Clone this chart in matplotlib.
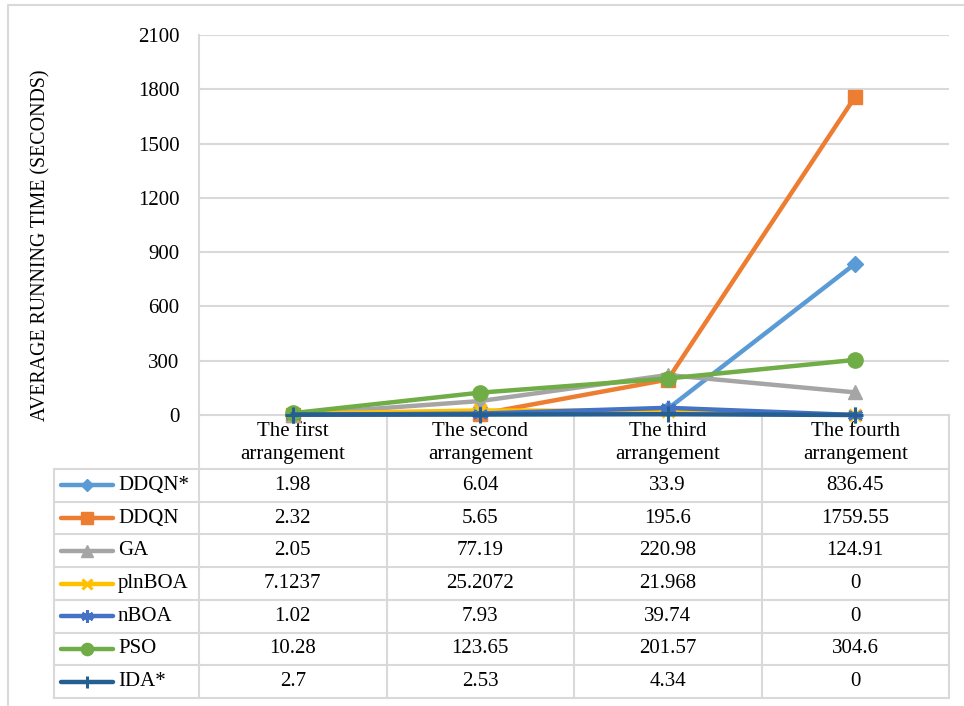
import matplotlib
matplotlib.use('Agg')
import matplotlib.pyplot as plt
from matplotlib.lines import Line2D

plt.rcParams['font.family'] = ['Liberation Serif', 'DejaVu Serif']

categories = ['The first\narrangement', 'The second\narrangement',
              'The third\narrangement', 'The fourth\narrangement']
series_names = ['DDQN*', 'DDQN', 'GA', 'plnBOA', 'nBOA', 'PSO', 'IDA*']
ddqn_star = [1.98, 6.04, 33.9, 836.45]
ddqn = [2.32, 5.65, 195.6, 1759.55]
ga = [2.05, 77.19, 220.98, 124.91]
plnboa = [7.1237, 25.2072, 21.968, 0]
nboa = [1.02, 7.93, 39.74, 0]
pso = [10.28, 123.65, 201.57, 304.6]
ida_star = [2.7, 2.53, 4.34, 0]
yticks = [0, 300, 600, 900, 1200, 1500, 1800, 2100]

values = [ddqn_star, ddqn, ga, plnboa, nboa, pso, ida_star]
colors = ['#5B9BD5', '#ED7D31', '#A5A5A5', '#FFC000', '#4472C4', '#70AD47', '#255E91']
markers = ['D', 's', '^', 'x', (6, 2, 0), 'o', '+']
msizes = [8, 10, 10, 9, 11, 11, 11]

FS = 15
W, H = 964, 706
fig = plt.figure(figsize=(W / 100, H / 100), dpi=100)

grid_c = '#D9D9D9'
left, right, top, zero_y = 199, 949, 35, 415
ax = fig.add_axes([left / W, 1 - zero_y / H, (right - left) / W, (zero_y - top) / H])

for vals, name, c, m, ms in zip(values, series_names, colors, markers, msizes):
    mew = 2.2 if m in ('x', '+') or isinstance(m, tuple) else 1
    ax.plot(range(len(vals)), vals, color=c, lw=3.2, marker=m, ms=ms,
            mew=mew, mec=c, mfc=c, clip_on=False, zorder=3, label=name)

ax.set_xlim(-0.5, len(categories) - 0.5)
ax.set_ylim(0, 2100)
ax.set_yticks(yticks)
ax.set_xticks([])
ax.tick_params(axis='y', length=0, labelsize=FS, pad=14)
ax.yaxis.grid(True, color=grid_c, lw=1.5)
ax.set_axisbelow(True)
for s in ['top', 'right', 'bottom']:
    ax.spines[s].set_visible(False)
ax.spines['left'].set_color(grid_c)
ax.spines['left'].set_linewidth(1.5)
ax.set_ylabel('AVERAGE RUNNING TIME (SECONDS)', fontsize=14.3)
ax.yaxis.set_label_coords(-0.198, 0.447)

# overlay in pixel coordinates for the data table
ov = fig.add_axes([0, 0, 1, 1], zorder=-1)
ov.set_xlim(0, W)
ov.set_ylim(H, 0)
ov.axis('off')

# outer chart border
ov.plot([8, 8, W + 5], [H + 5, 5, 5], color=grid_c, lw=1.5)

leg_left = 54
col_w = (right - left) / len(categories)
head_bot = 469
row_h = (698 - head_bot) / len(series_names)

# header row
ov.plot([left, right], [zero_y, zero_y], color=grid_c, lw=1.5)
for i, cat in enumerate(categories):
    ov.text(left + col_w * (i + 0.5), (zero_y + head_bot) / 2 + 1, cat,
            ha='center', va='center', fontsize=FS, linespacing=1.25)

# row lines
for r in range(len(series_names) + 1):
    y = head_bot + r * row_h
    ov.plot([leg_left, right], [y, y], color=grid_c, lw=1.5)
ov.plot([leg_left, leg_left], [head_bot, head_bot + len(series_names) * row_h], color=grid_c, lw=1.5)
for i in range(len(categories) + 1):
    x = left + col_w * i
    ov.plot([x, x], [zero_y, head_bot + len(series_names) * row_h], color=grid_c, lw=1.5)

for r, (vals, name, c, m, ms) in enumerate(zip(values, series_names, colors, markers, msizes)):
    yc = head_bot + (r + 0.5) * row_h
    mew = 2.2 if m in ('x', '+') or isinstance(m, tuple) else 1
    ov.add_line(Line2D([61, 113], [yc, yc], color=c, lw=3.2, solid_capstyle='round'))
    ov.plot([87], [yc], marker=m, ms=ms * 0.8, color=c, mec=c, mew=mew)
    ov.text(118, yc, name, ha='left', va='center', fontsize=FS)
    for i, v in enumerate(vals):
        ov.text(left + col_w * (i + 0.5), yc, '{:g}'.format(v),
                ha='center', va='center', fontsize=FS)

fig.savefig('out.png', dpi=100)
